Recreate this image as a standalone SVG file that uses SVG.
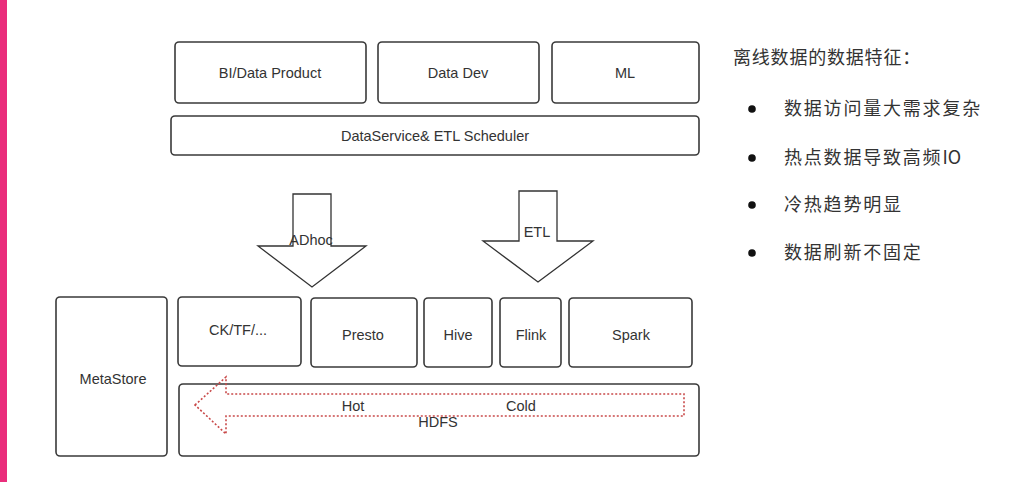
<svg xmlns="http://www.w3.org/2000/svg" width="1024" height="482" viewBox="0 0 1024 482">
<style>
.box{fill:#fff;stroke:#3a3a3a;stroke-width:1.6}
.lbl{font-family:"Liberation Sans","DejaVu Sans",sans-serif;font-size:14.5px;fill:#333;text-anchor:middle;dominant-baseline:central}
.arr{fill:#fff;stroke:#333;stroke-width:1.3}
.cjk{font-family:"Noto Sans CJK SC",sans-serif;font-size:18px;fill:#333}
</style>
<rect x="0" y="0" width="1024" height="482" fill="#fff"/>
<rect x="0" y="0" width="7" height="482" fill="#ea2e7c"/>
<g id="bi"><rect class="box" x="175" y="42" width="191" height="61" rx="4"/><text class="lbl" x="270" y="73">BI/Data Product</text></g>
<g id="datadev"><rect class="box" x="378" y="42" width="161" height="61" rx="4"/><text class="lbl" x="458" y="73">Data Dev</text></g>
<g id="ml"><rect class="box" x="552" y="42" width="147" height="61" rx="4"/><text class="lbl" x="625" y="73">ML</text></g>
<g id="scheduler"><rect class="box" x="171" y="116" width="528" height="39" rx="4"/><text class="lbl" x="435" y="136">DataService&amp; ETL Scheduler</text></g>
<g id="connectors">
<polygon class="arr" points="293,194 331,194 331,246 366,246 312,287 258,246 293,246"/>
<polygon class="arr" points="519,191 557,191 557,241 593,241 538,282 483,241 519,241"/>
</g>
<text class="lbl" x="311" y="240">ADhoc</text>
<text class="lbl" x="537" y="232">ETL</text>
<g id="metastore"><rect class="box" x="56" y="297" width="111" height="159" rx="4"/><text class="lbl" x="113" y="379">MetaStore</text></g>
<g id="ck"><rect class="box" x="178" y="297" width="123" height="69" rx="4"/><text class="lbl" x="238" y="330">CK/TF/...</text></g>
<g id="presto"><rect class="box" x="311" y="298" width="106" height="69" rx="4"/><text class="lbl" x="363" y="335">Presto</text></g>
<g id="hive"><rect class="box" x="424" y="298" width="68" height="69" rx="4"/><text class="lbl" x="458" y="335">Hive</text></g>
<g id="flink"><rect class="box" x="500" y="298" width="61" height="69" rx="4"/><text class="lbl" x="531" y="335">Flink</text></g>
<g id="spark"><rect class="box" x="569" y="298" width="123" height="69" rx="4"/><text class="lbl" x="631" y="335">Spark</text></g>
<g id="hdfs"><rect class="box" x="179" y="384" width="520" height="72" rx="4"/>
<polygon points="195,405 226,377 226,394 684,394 684,416 226,416 226,434" fill="none" stroke="#c94a4a" stroke-width="1.6" stroke-dasharray="2 2"/>
<text class="lbl" x="353" y="406">Hot</text>
<text class="lbl" x="521" y="406">Cold</text>
<text class="lbl" x="438" y="422">HDFS</text></g>
<g id="features">
<text class="cjk" x="733" y="64" letter-spacing="0.8">离线数据的数据特征：</text>
<circle cx="752" cy="109" r="3.8" fill="#111"/>
<text class="cjk" x="784" y="115" letter-spacing="1.8">数据访问量大需求复杂</text>
<circle cx="752" cy="158" r="3.8" fill="#111"/>
<text class="cjk" x="784" y="164"><tspan letter-spacing="1.8">热点数据导致高频</tspan><tspan>IO</tspan></text>
<circle cx="752" cy="205" r="3.8" fill="#111"/>
<text class="cjk" x="784" y="211" letter-spacing="1.8">冷热趋势明显</text>
<circle cx="752" cy="253" r="3.8" fill="#111"/>
<text class="cjk" x="784" y="259" letter-spacing="1.8">数据刷新不固定</text>
</g>
</svg>
